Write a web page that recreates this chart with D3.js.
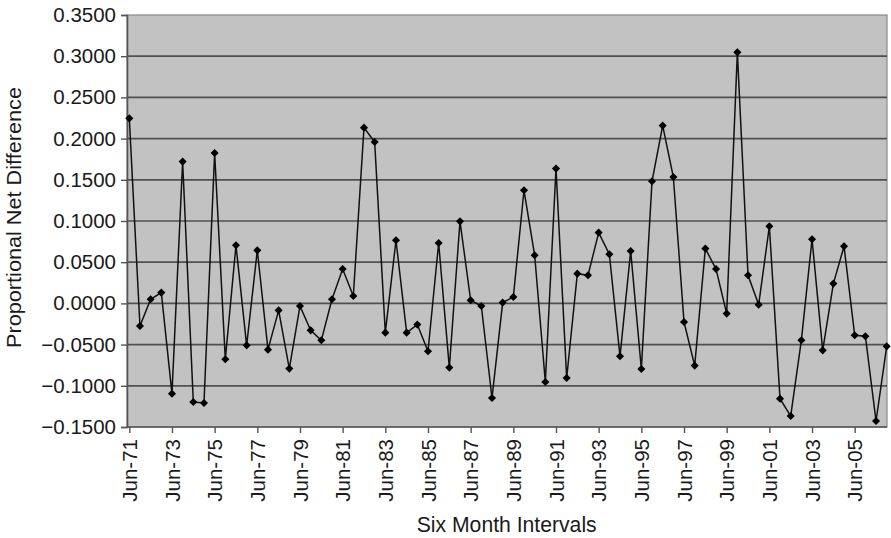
<!DOCTYPE html>
<html>
<head>
<meta charset="utf-8">
<script src="https://cdn.jsdelivr.net/npm/d3@7/dist/d3.min.js"></script>
<style>
  html, body { margin: 0; padding: 0; background: #ffffff; }
  svg { display: block; }
  text { font-family: "Liberation Sans", Arial, sans-serif; fill: #1a1a1a; }
</style>
</head>
<body>
<svg id="chart" width="891" height="538"></svg>
<script>
const categories = [
  "Jun-71","Dec-71","Jun-72","Dec-72","Jun-73","Dec-73","Jun-74","Dec-74",
  "Jun-75","Dec-75","Jun-76","Dec-76","Jun-77","Dec-77","Jun-78","Dec-78",
  "Jun-79","Dec-79","Jun-80","Dec-80","Jun-81","Dec-81","Jun-82","Dec-82",
  "Jun-83","Dec-83","Jun-84","Dec-84","Jun-85","Dec-85","Jun-86","Dec-86",
  "Jun-87","Dec-87","Jun-88","Dec-88","Jun-89","Dec-89","Jun-90","Dec-90",
  "Jun-91","Dec-91","Jun-92","Dec-92","Jun-93","Dec-93","Jun-94","Dec-94",
  "Jun-95","Dec-95","Jun-96","Dec-96","Jun-97","Dec-97","Jun-98","Dec-98",
  "Jun-99","Dec-99","Jun-00","Dec-00","Jun-01","Dec-01","Jun-02","Dec-02",
  "Jun-03","Dec-03","Jun-04","Dec-04","Jun-05","Dec-05","Jun-06","Dec-06"
];

const values = [
  0.2246, -0.0274, 0.0050, 0.0131, -0.1095, 0.1721, -0.1197, -0.1209,
  0.1825, -0.0678, 0.0705, -0.0509, 0.0644, -0.0561, -0.0084, -0.0791,
  -0.0032, -0.0327, -0.0448, 0.0050, 0.0417, 0.0090, 0.2133, 0.1959,
  -0.0355, 0.0766, -0.0355, -0.0257, -0.0581, 0.0733, -0.0779, 0.0996,
  0.0038, -0.0032, -0.1148, 0.0010, 0.0078, 0.1373, 0.0584, -0.0954,
  0.1636, -0.0905, 0.0361, 0.0341, 0.0859, 0.0596, -0.0642, 0.0636,
  -0.0796, 0.1482, 0.2158, 0.1534, -0.0226, -0.0755, 0.0665, 0.0417,
  -0.0124, 0.3047, 0.0341, -0.0015, 0.0936, -0.1156, -0.1367, -0.0448,
  0.0778, -0.0570, 0.0240, 0.0693, -0.0387, -0.0399, -0.1427, -0.0521
];

const yTicks = [-0.15, -0.10, -0.05, 0.00, 0.05, 0.10, 0.15, 0.20, 0.25, 0.30, 0.35];
const xTickLabels = ["Jun-71","Jun-73","Jun-75","Jun-77","Jun-79","Jun-81","Jun-83","Jun-85",
  "Jun-87","Jun-89","Jun-91","Jun-93","Jun-95","Jun-97","Jun-99","Jun-01","Jun-03","Jun-05"];

const yTitle = "Proportional Net Difference";
const xTitle = "Six Month Intervals";

const svg = d3.select("#chart");
const plot = { left: 127, right: 887, top: 15, bottom: 427 };

const x = d3.scalePoint().domain(categories).range([129.3, 886.7]);
const y = d3.scaleLinear().domain([-0.15, 0.35]).range([plot.bottom, plot.top]);

// plot background
svg.append("rect")
  .attr("x", plot.left).attr("y", plot.top)
  .attr("width", plot.right - plot.left).attr("height", plot.bottom - plot.top)
  .attr("fill", "#c2c2c2")
  .attr("stroke", "#8a8a8a").attr("stroke-width", 1.2);

// gridlines
svg.append("g").selectAll("line")
  .data(yTicks.filter(d => d > -0.15 && d < 0.35))
  .join("line")
  .attr("x1", plot.left).attr("x2", plot.right)
  .attr("y1", d => y(d)).attr("y2", d => y(d))
  .attr("stroke", "#505050").attr("stroke-width", 1.7);

// y axis
const yAxis = d3.axisLeft(y).tickValues(yTicks).tickFormat(d3.format(".4f")).tickSize(6).tickPadding(5);
const gy = svg.append("g").attr("transform", `translate(${plot.left},0)`).call(yAxis);
gy.select(".domain").attr("stroke", "#555555").attr("stroke-width", 1.6);
gy.selectAll(".tick line").attr("stroke", "#555555").attr("stroke-width", 1.4);
gy.selectAll(".tick text").style("font-size", "20.5px").attr("fill", "#1a1a1a");

// x axis
const xAxis = d3.axisBottom(x).tickValues(xTickLabels).tickSize(6).tickPadding(0).tickSizeOuter(0);
const gx = svg.append("g").attr("transform", `translate(0,${plot.bottom})`).call(xAxis);
gx.select(".domain").attr("stroke", "#555555").attr("stroke-width", 1.6)
  .attr("d", `M${plot.left},0H${plot.right}`);
gx.selectAll(".tick line").attr("stroke", "#555555").attr("stroke-width", 1.4);
gx.selectAll(".tick text")
  .style("font-size", "20.5px").attr("fill", "#1a1a1a")
  .attr("text-anchor", "end")
  .attr("transform", "rotate(-90)")
  .attr("x", -12).attr("y", 0).attr("dy", "0.35em");

// line
const line = d3.line().x((d, i) => x(categories[i])).y(d => y(d));
svg.append("path").datum(values)
  .attr("d", line)
  .attr("fill", "none").attr("stroke", "#111111").attr("stroke-width", 1.5);

// diamond markers
const diamond = d3.symbol().type(d3.symbolDiamond2).size(42);
svg.append("g").selectAll("path")
  .data(values)
  .join("path")
  .attr("d", diamond)
  .attr("transform", (d, i) => `translate(${x(categories[i])},${y(d)})`)
  .attr("fill", "#000000");

// titles
svg.append("text")
  .attr("transform", `translate(21,217.5) rotate(-90)`)
  .attr("text-anchor", "middle")
  .attr("textLength", 261)
  .attr("lengthAdjust", "spacingAndGlyphs")
  .style("font-size", "19.5px")
  .text(yTitle);

svg.append("text")
  .attr("x", 506.7).attr("y", 532)
  .attr("text-anchor", "middle")
  .attr("textLength", 180)
  .attr("lengthAdjust", "spacingAndGlyphs")
  .style("font-size", "21.5px")
  .text(xTitle);
</script>
</body>
</html>
